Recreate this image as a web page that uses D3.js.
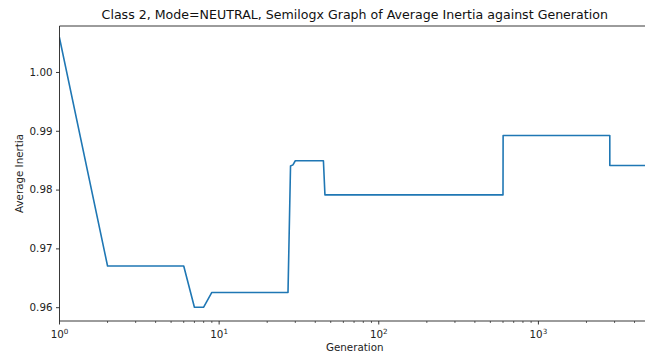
<!DOCTYPE html>
<html>
<head>
<meta charset="utf-8">
<script src="https://cdn.jsdelivr.net/npm/d3@7"></script>
<style>
  html, body { margin: 0; padding: 0; background: #fff; }
  svg { display: block; font-family: "DejaVu Sans", sans-serif; }
</style>
</head>
<body>
<svg id="chart" width="645" height="356"></svg>
<script>
// Average inertia per generation (breakpoints of the run)
const generations = [1, 2, 6, 7, 8, 9, 27, 28, 29, 30, 45, 46, 600, 601, 2800, 2801, 5000];
const inertia = [1.0058, 0.9670, 0.9670, 0.9600, 0.9600, 0.9625, 0.9625, 0.9840, 0.9842, 0.9849, 0.9849, 0.9791, 0.9791, 0.9892, 0.9892, 0.9841, 0.9841];
const yTickValues = [0.96, 0.97, 0.98, 0.99, 1.00];
const xDecades = [0, 1, 2, 3];

const titleText = "Class 2, Mode=NEUTRAL, Semilogx Graph of Average Inertia against Generation";
const xLabel = "Generation";
const yLabel = "Average Inertia";

const svg = d3.select("#chart");
const plotLeft = 59.5, plotRight = 650, plotTop = 26, plotBottom = 321;

const x = d3.scaleLog().domain([1, 5000]).range([plotLeft, plotRight]);
const y = d3.scaleLinear().domain([0.95765, 1.00782]).range([plotBottom, plotTop]);

const data = generations.map((g, i) => ({ g, v: inertia[i] }));

// clip region for the plot
svg.append("defs").append("clipPath").attr("id", "plotclip")
  .append("rect").attr("x", plotLeft).attr("y", plotTop)
  .attr("width", plotRight - plotLeft).attr("height", plotBottom - plotTop);

const line = d3.line().x(d => x(d.g)).y(d => y(d.v));
svg.append("path")
  .datum(data)
  .attr("clip-path", "url(#plotclip)")
  .attr("fill", "none")
  .attr("stroke", "#1f77b4")
  .attr("stroke-width", 1.6)
  .attr("stroke-linejoin", "round")
  .attr("stroke-linecap", "square")
  .attr("d", line);

// frame
const spineColor = "#222";
function addLine(x1, y1, x2, y2, w) {
  svg.append("line").attr("x1", x1).attr("y1", y1).attr("x2", x2).attr("y2", y2)
    .attr("stroke", spineColor).attr("stroke-width", w || 0.9);
}
addLine(plotLeft, plotTop, plotLeft, plotBottom);
addLine(plotLeft, plotBottom, plotRight, plotBottom);
addLine(plotLeft, plotTop, plotRight, plotTop);
addLine(plotRight, plotTop, plotRight, plotBottom);

// y axis
const yAxis = d3.axisLeft(y).tickValues(yTickValues).tickFormat(d3.format(".2f")).tickSize(3.5).tickPadding(3.5);
const gy = svg.append("g").attr("transform", `translate(${plotLeft},0)`).call(yAxis);
gy.select(".domain").remove();
gy.selectAll(".tick line").attr("stroke", spineColor).attr("stroke-width", 0.9);
gy.selectAll(".tick text").attr("font-size", 10.3).attr("fill", "#222").attr("font-family", "DejaVu Sans, sans-serif");

// x axis: major ticks at decades, minor ticks in between
const majors = xDecades.map(k => Math.pow(10, k));
const minors = [];
xDecades.forEach(k => { for (let m = 2; m <= 9; m++) { const v = m * Math.pow(10, k); if (v <= 5000) minors.push(v); } });

const gx = svg.append("g");
minors.forEach(v => {
  gx.append("line").attr("x1", x(v)).attr("x2", x(v)).attr("y1", plotBottom).attr("y2", plotBottom + 2)
    .attr("stroke", spineColor).attr("stroke-width", 0.7);
});
majors.forEach((v, i) => {
  gx.append("line").attr("x1", x(v)).attr("x2", x(v)).attr("y1", plotBottom).attr("y2", plotBottom + 3.5)
    .attr("stroke", spineColor).attr("stroke-width", 0.9);
  const t = gx.append("text").attr("x", x(v)).attr("y", plotBottom + 17)
    .attr("text-anchor", "middle").attr("font-size", 10.3).attr("fill", "#222");
  t.append("tspan").text("10");
  t.append("tspan").attr("font-size", 7.2).attr("dy", -4.5).text(String(xDecades[i]));
});

// labels
svg.append("text").attr("x", (plotLeft + plotRight) / 2).attr("y", 351)
  .attr("text-anchor", "middle").attr("font-size", 10.3).attr("fill", "#222").text(xLabel);
svg.append("text").attr("transform", `translate(23,${(plotTop + plotBottom) / 2}) rotate(-90)`)
  .attr("text-anchor", "middle").attr("font-size", 10.3).attr("fill", "#222").text(yLabel);
svg.append("text").attr("x", (plotLeft + plotRight) / 2).attr("y", 19)
  .attr("text-anchor", "middle").attr("font-size", 12.6).attr("fill", "#111").text(titleText);
</script>
</body>
</html>
